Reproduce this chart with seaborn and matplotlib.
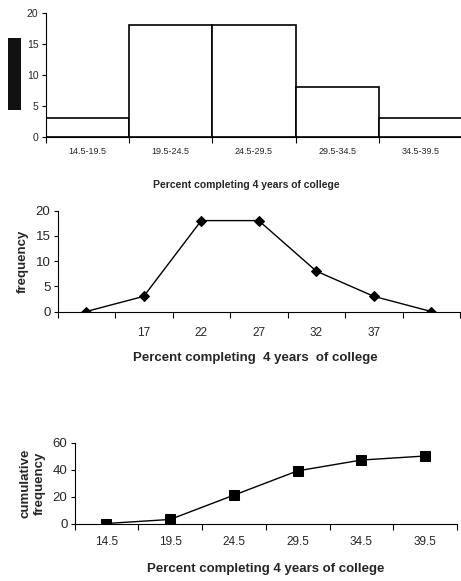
import numpy as np
import pandas as pd
import seaborn as sns
import matplotlib.pyplot as plt
from matplotlib.ticker import FixedLocator
from matplotlib.patches import Rectangle

# histogram data
bins = ["14.5-19.5", "19.5-24.5", "24.5-29.5", "29.5-34.5", "34.5-39.5"]
freq = [3, 18, 18, 8, 3]

# frequency polygon (class midpoints, padded with empty classes)
midpoints = [12, 17, 22, 27, 32, 37, 42]
poly_freq = [0, 3, 18, 18, 8, 3, 0]
mid_labels = [17, 22, 27, 32, 37]

# ogive (upper class boundaries)
upper = [14.5, 19.5, 24.5, 29.5, 34.5, 39.5]
cum_freq = [0, 3, 21, 39, 47, 50]

sns.set_style("white")
plt.rcParams['font.family'] = ['Liberation Sans', 'DejaVu Sans']

fig = plt.figure(figsize=(4.61, 5.81), dpi=100)
W, H = 461, 581


def axes_px(x0, y0, x1, y1):
    return fig.add_axes([x0 / W, 1 - y1 / H, (x1 - x0) / W, (y1 - y0) / H])


def style(ax):
    for s in ["top", "right"]:
        ax.spines[s].set_visible(False)
    for s in ["left", "bottom"]:
        ax.spines[s].set_color("black")
        ax.spines[s].set_linewidth(0.8)
    ax.tick_params(axis="y", which="both", left=True, length=3, width=0.8, color="black", pad=2)
    ax.tick_params(axis="x", which="major", length=0)
    ax.tick_params(axis="x", which="minor", bottom=True, length=4, width=0.8, color="black")


# --- histogram ---
ax1 = axes_px(45.5, 13, 462.5, 137)
df_h = pd.DataFrame({"bin": bins, "freq": freq})
sns.barplot(data=df_h, x="bin", y="freq", width=1.0, color="white",
            edgecolor="black", linewidth=1.2, ax=ax1, saturation=1)
ax1.set_xlim(-0.5, len(bins) - 0.5)
ax1.set_ylim(0, 20)
ax1.set_yticks([0, 5, 10, 15, 20])
ax1.xaxis.set_minor_locator(FixedLocator(np.arange(-0.5, len(bins), 1.0)))
style(ax1)
ax1.tick_params(axis="y", labelsize=7.5)
ax1.tick_params(axis="x", labelsize=6.5, pad=7)
ax1.set_xlabel("")
ax1.set_ylabel("")
fig.text(246 / W, 1 - 185 / H, "Percent completing 4 years of college",
         ha="center", va="center", fontsize=7.5, fontweight="bold")
# the y label of the histogram is blacked out in the source
fig.patches.append(Rectangle((8 / W, 1 - 110 / H), 12.5 / W, 72 / H,
                             transform=fig.transFigure, facecolor="#111111",
                             edgecolor="none"))

# --- frequency polygon ---
ax2 = axes_px(57.5, 210.5, 460, 311.5)
df_p = pd.DataFrame({"mid": midpoints, "freq": poly_freq})
sns.lineplot(data=df_p, x="mid", y="freq", color="black", linewidth=1,
             marker="D", markersize=5.5, markeredgecolor="black", ax=ax2)
ax2.set_xlim(9.5, 44.5)
ax2.set_ylim(0, 20)
ax2.set_yticks([0, 5, 10, 15, 20])
ax2.set_xticks(mid_labels)
ax2.xaxis.set_minor_locator(FixedLocator(np.arange(9.5, 45, 5)))
style(ax2)
ax2.tick_params(axis="y", labelsize=9.5)
ax2.tick_params(axis="x", labelsize=8.5, pad=11)
ax2.set_xlabel("")
ax2.set_ylabel("frequency", fontsize=9.5, fontweight="bold", labelpad=5)
fig.text(255 / W, 1 - 358 / H, "Percent completing  4 years  of college",
         ha="center", va="center", fontsize=9.5, fontweight="bold")

# --- ogive ---
ax3 = axes_px(74.5, 442.5, 457, 523.5)
df_c = pd.DataFrame({"upper": upper, "cum": cum_freq})
sns.lineplot(data=df_c, x="upper", y="cum", color="black", linewidth=1,
             marker="s", markersize=6.5, markeredgecolor="black", ax=ax3)
ax3.set_xlim(12, 42)
ax3.set_ylim(0, 60)
ax3.set_yticks([0, 20, 40, 60])
ax3.set_xticks(upper)
ax3.set_xticklabels([f"{u:.1f}" for u in upper])
ax3.xaxis.set_minor_locator(FixedLocator(np.arange(12, 43, 5)))
style(ax3)
ax3.tick_params(axis="y", labelsize=9.5)
ax3.tick_params(axis="x", labelsize=8.5, pad=9)
ax3.set_xlabel("Percent completing 4 years of college", fontsize=9.5,
               fontweight="bold", labelpad=11)
ax3.set_ylabel("cumulative\nfrequency", fontsize=9.5, fontweight="bold",
               labelpad=5, linespacing=1.25)

fig.savefig("out.png", dpi=100)
